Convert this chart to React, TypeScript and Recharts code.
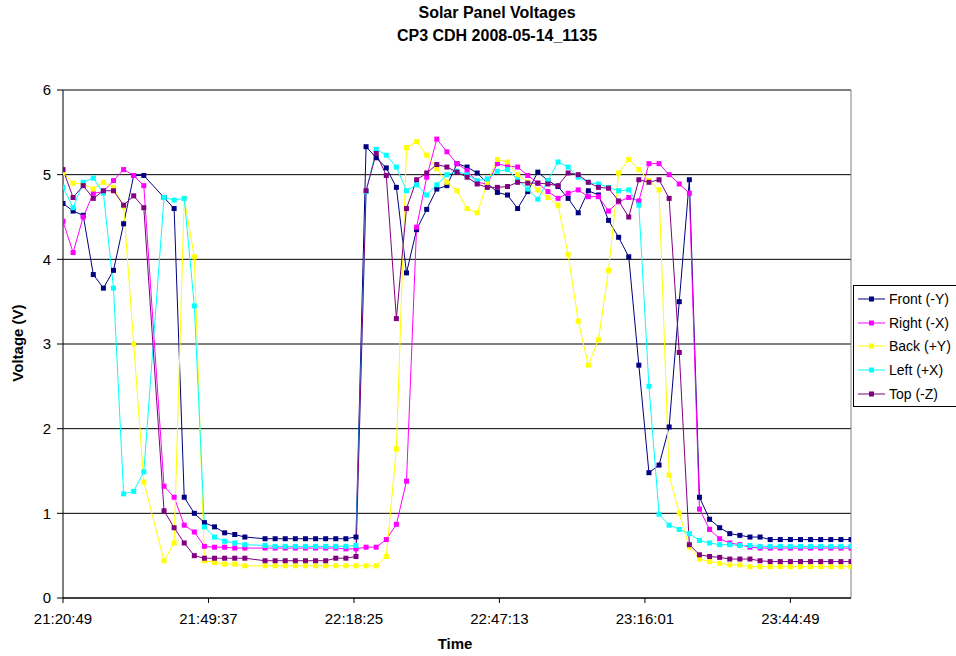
import React from 'react';
import { LineChart, Line, XAxis, YAxis, CartesianGrid, ReferenceLine } from 'recharts';

// sample slot index (one slot ~ 2 minutes); slots 9 and 19 have no sample
const slots = [
  0, 1, 2, 3, 4, 5, 6, 7, 8,
  10, 11, 12, 13, 14, 15, 16, 17, 18,
  20, 21, 22, 23, 24, 25, 26, 27, 28, 29,
  30, 31, 32, 33, 34, 35, 36, 37, 38, 39,
  40, 41, 42, 43, 44, 45, 46, 47, 48, 49,
  50, 51, 52, 53, 54, 55, 56, 57, 58, 59,
  60, 61, 62, 63, 64, 65, 66, 67, 68, 69,
  70, 71, 72, 73, 74, 75, 76, 77, 78,
];

const front = [
  4.66, 4.57, 4.52, 3.82, 3.66, 3.87, 4.42, 4.99, 4.99,
  4.73, 4.60, 1.19, 1.00, 0.89, 0.84, 0.77, 0.75, 0.72,
  0.70, 0.70, 0.70, 0.70, 0.70, 0.70, 0.70, 0.70, 0.70, 0.72,
  5.33, 5.20, 5.08, 4.85, 3.84, 4.35, 4.59, 4.83, 4.87, 5.13,
  5.09, 5.02, 4.90, 4.79, 4.76, 4.60, 4.80, 5.03, 4.93, 4.86,
  4.72, 4.55, 4.81, 4.76, 4.46, 4.26, 4.03, 2.75, 1.48, 1.57,
  2.02, 3.50, 4.94, 1.19, 0.93, 0.83, 0.76, 0.74, 0.72, 0.72,
  0.69, 0.69, 0.69, 0.69, 0.69, 0.69, 0.69, 0.69, 0.69,
];

const right = [
  4.45, 4.08, 4.50, 4.78, 4.80, 4.93, 5.06, 4.99, 4.87,
  1.32, 1.19, 0.86, 0.78, 0.61, 0.60, 0.60, 0.59, 0.59,
  0.59, 0.59, 0.59, 0.59, 0.59, 0.59, 0.59, 0.59, 0.58, 0.58,
  0.60, 0.60, 0.69, 0.87, 1.38, 4.38, 4.97, 5.42, 5.27, 5.13,
  5.05, 4.91, 4.89, 5.13, 5.10, 5.09, 4.99, 4.90, 4.80, 4.72,
  4.78, 4.82, 4.74, 4.74, 4.57, 4.68, 4.73, 4.69, 5.13, 5.13,
  5.00, 4.89, 4.78, 1.05, 0.81, 0.70, 0.65, 0.63, 0.60, 0.59,
  0.59, 0.59, 0.59, 0.59, 0.59, 0.59, 0.59, 0.59, 0.59,
];

const back = [
  5.02, 4.90, 4.89, 4.83, 4.91, 4.85, 4.62, 3.00, 1.37,
  0.44, 0.65, 4.72, 4.03, 0.44, 0.42, 0.40, 0.40, 0.38,
  0.38, 0.38, 0.38, 0.38, 0.38, 0.38, 0.38, 0.38, 0.38, 0.38,
  0.38, 0.38, 0.49, 1.76, 5.32, 5.39, 5.23, 5.07, 4.91, 4.81,
  4.60, 4.55, 4.90, 5.18, 5.15, 5.00, 4.91, 4.82, 4.73, 4.64,
  4.06, 3.27, 2.75, 3.05, 3.87, 5.02, 5.18, 5.06, 4.93, 4.82,
  1.45, 1.00, 0.60, 0.46, 0.43, 0.41, 0.39, 0.39, 0.37, 0.37,
  0.37, 0.37, 0.37, 0.37, 0.37, 0.37, 0.37, 0.37, 0.37,
];

const left = [
  4.85, 4.61, 4.91, 4.96, 4.78, 3.66, 1.23, 1.26, 1.49,
  4.73, 4.70, 4.72, 3.45, 0.84, 0.72, 0.67, 0.65, 0.63,
  0.62, 0.61, 0.61, 0.61, 0.61, 0.61, 0.61, 0.61, 0.61, 0.62,
  4.80, 5.30, 5.23, 5.09, 4.81, 4.88, 4.76, 4.88, 5.00, 5.04,
  5.00, 4.93, 4.95, 5.04, 5.06, 4.94, 4.83, 4.71, 4.93, 5.15,
  5.09, 4.97, 4.91, 4.89, 4.85, 4.81, 4.82, 4.64, 2.50, 0.99,
  0.86, 0.81, 0.76, 0.68, 0.65, 0.63, 0.63, 0.62, 0.62, 0.61,
  0.61, 0.61, 0.61, 0.61, 0.61, 0.61, 0.61, 0.61, 0.61,
];

const top = [
  5.06, 4.73, 4.87, 4.72, 4.81, 4.81, 4.64, 4.75, 4.61,
  1.03, 0.83, 0.65, 0.50, 0.47, 0.47, 0.47, 0.47, 0.47,
  0.44, 0.44, 0.44, 0.44, 0.44, 0.44, 0.44, 0.47, 0.47, 0.49,
  4.81, 5.25, 4.99, 3.30, 4.60, 4.94, 5.02, 5.12, 5.09, 5.03,
  4.97, 4.89, 4.85, 4.85, 4.86, 4.91, 4.90, 4.90, 4.89, 4.87,
  5.02, 5.00, 4.91, 4.85, 4.84, 4.69, 4.50, 4.94, 4.91, 4.94,
  4.72, 2.90, 0.63, 0.51, 0.49, 0.48, 0.46, 0.46, 0.46, 0.44,
  0.43, 0.43, 0.43, 0.43, 0.43, 0.43, 0.43, 0.43, 0.43,
];

const seriesKeys = ['front', 'right', 'back', 'left', 'top'];
const seriesNames = ['Front (-Y)', 'Right (-X)', 'Back (+Y)', 'Left (+X)', 'Top (-Z)'];
const seriesColors = ['#000080', '#FF00FF', '#FFFF00', '#00FFFF', '#800080'];
const seriesValues = [front, right, back, left, top];

const xTickLabels = ['21:20:49', '21:49:37', '22:18:25', '22:47:13', '23:16:01', '23:44:49'];
const xTickOffsetsSec = [0, 1728, 3456, 5184, 6912, 8640];
const SLOT_SECONDS = 120;
const yTicks = [0, 1, 2, 3, 4, 5, 6];

const xTicks = xTickOffsetsSec.map((s) => s / SLOT_SECONDS);

const data = slots.map((slot, i) => {
  const row: Record<string, number> = { slot };
  seriesKeys.forEach((k, j) => {
    row[k] = seriesValues[j][i];
  });
  return row;
});

const FONT = '"Liberation Sans", Arial, sans-serif';

const squareDot = (color: string) => (props: any) => {
  const { cx, cy, index } = props;
  if (cx == null || cy == null) return <g key={`e${index}`} />;
  return (
    <rect key={`d${index}`} x={cx - 2.5} y={cy - 2.5} width={5} height={5} fill={color} stroke="none" />
  );
};

const fmtX = (v: number) => {
  const idx = xTicks.findIndex((t) => Math.abs(t - v) < 1e-6);
  return idx >= 0 ? xTickLabels[idx] : '';
};

export default function App() {
  return (
    <div
      style={{
        position: 'absolute',
        left: 0,
        top: 0,
        width: 956,
        height: 656,
        background: '#fff',
        fontFamily: FONT,
        overflow: 'hidden',
      }}
    >
      <div
        style={{
          position: 'absolute',
          left: 297,
          width: 400,
          top: 1,
          textAlign: 'center',
          fontWeight: 'bold',
          fontSize: 16,
          lineHeight: '23px',
          color: '#000',
        }}
      >
        <div>Solar Panel Voltages</div>
        <div>CP3 CDH 2008-05-14_1135</div>
      </div>

      <LineChart
        width={956}
        height={656}
        data={data}
        margin={{ top: 90, right: 105, bottom: 0, left: 0 }}
      >
        <CartesianGrid vertical={false} stroke="#000" strokeWidth={1} />
        <XAxis
          type="number"
          dataKey="slot"
          domain={[0, 78]}
          ticks={xTicks}
          interval={0}
          tickFormatter={fmtX}
          height={58}
          tickSize={5}
          tickMargin={10}
          axisLine={{ stroke: '#000' }}
          tickLine={{ stroke: '#000' }}
          tick={{ fill: '#000', fontSize: 15, fontFamily: FONT }}
          allowDataOverflow
        />
        <YAxis
          type="number"
          domain={[0, 6]}
          ticks={yTicks}
          interval={0}
          width={63}
          tickSize={6}
          tickMargin={6}
          axisLine={{ stroke: '#000' }}
          tickLine={{ stroke: '#000' }}
          tick={{ fill: '#000', fontSize: 15, fontFamily: FONT }}
        />
        <ReferenceLine y={6} stroke="#808080" />
        <ReferenceLine x={78} stroke="#808080" />
        {seriesKeys.map((k, j) => (
          <Line
            key={k}
            type="linear"
            dataKey={k}
            name={seriesNames[j]}
            stroke={seriesColors[j]}
            strokeWidth={1}
            dot={squareDot(seriesColors[j])}
            activeDot={false}
            isAnimationActive={false}
          />
        ))}
      </LineChart>

      <div
        style={{
          position: 'absolute',
          left: 8,
          top: 335,
          width: 100,
          textAlign: 'center',
          fontWeight: 'bold',
          fontSize: 15,
          lineHeight: '16px',
          transform: 'translate(-40px, 0) rotate(-90deg)',
          transformOrigin: '50% 50%',
          whiteSpace: 'nowrap',
        }}
      >
        Voltage (V)
      </div>
      <div
        style={{
          position: 'absolute',
          left: 405,
          width: 100,
          top: 635,
          textAlign: 'center',
          fontWeight: 'bold',
          fontSize: 15,
          lineHeight: '18px',
        }}
      >
        Time
      </div>

      <div
        style={{
          position: 'absolute',
          left: 853,
          top: 285,
          width: 110,
          height: 122,
          border: '1px solid #000',
          boxSizing: 'border-box',
          background: '#fff',
        }}
      >
        {seriesNames.map((n, j) => (
          <div
            key={n}
            style={{
              position: 'absolute',
              left: 4,
              top: 3 + j * 23.7,
              height: 20,
              display: 'flex',
              alignItems: 'center',
              whiteSpace: 'nowrap',
            }}
          >
            <svg width={28} height={20} style={{ display: 'block' }}>
              <line x1={0} y1={10} x2={27} y2={10} stroke={seriesColors[j]} strokeWidth={1} />
              <rect x={11} y={7.5} width={5} height={5} fill={seriesColors[j]} />
            </svg>
            <span style={{ fontSize: 14, marginLeft: 3, color: '#000' }}>{n}</span>
          </div>
        ))}
      </div>
    </div>
  );
}
